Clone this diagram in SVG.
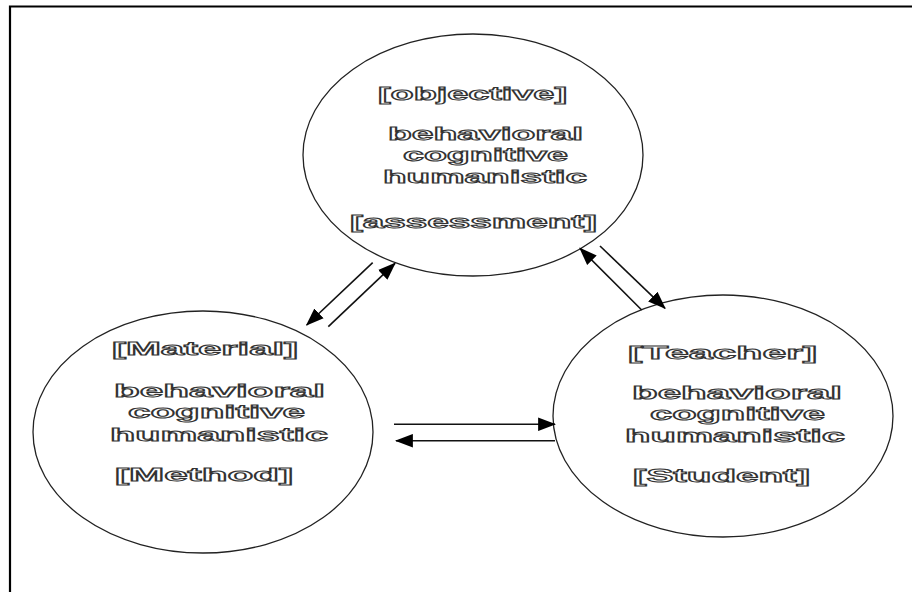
<svg xmlns="http://www.w3.org/2000/svg" width="912" height="592" viewBox="0 0 912 592">
<defs>
<style>
.node ellipse{fill:#fff;stroke:#222;stroke-width:1.3}
.node text{font-family:"Liberation Sans",Arial,sans-serif;font-weight:bold;font-size:18px;fill:#fff;stroke:#333;stroke-width:1}
.conn line{stroke:#111;stroke-width:1.6;marker-end:url(#ah)}
</style>
<marker id="ah" viewBox="0 0 16 12" refX="15" refY="6" markerWidth="18" markerHeight="14" markerUnits="userSpaceOnUse" orient="auto">
<path d="M0,0 L16,6 L0,12 Z" fill="#000"/>
</marker>
</defs>
<rect width="912" height="592" fill="#fff"/>
<path d="M10,592 V6.5 H912" fill="none" stroke="#000" stroke-width="2.2"/>
<g id="objective" class="node">
<ellipse cx="473" cy="155" rx="170" ry="121"/>
<text x="378" y="100" textLength="189" lengthAdjust="spacingAndGlyphs">[objective]</text>
<text x="388" y="140" textLength="195" lengthAdjust="spacingAndGlyphs">behavioral</text>
<text x="403" y="161" textLength="165" lengthAdjust="spacingAndGlyphs">cognitive</text>
<text x="383" y="183" textLength="204" lengthAdjust="spacingAndGlyphs">humanistic</text>
<text x="350" y="228" textLength="247" lengthAdjust="spacingAndGlyphs">[assessment]</text>
</g>
<g id="material" class="node">
<ellipse cx="203" cy="432" rx="170" ry="121"/>
<text x="112" y="355" textLength="186" lengthAdjust="spacingAndGlyphs">[Material]</text>
<text x="114" y="397" textLength="211" lengthAdjust="spacingAndGlyphs">behavioral</text>
<text x="128" y="418" textLength="177" lengthAdjust="spacingAndGlyphs">cognitive</text>
<text x="110" y="441" textLength="218" lengthAdjust="spacingAndGlyphs">humanistic</text>
<text x="115" y="481" textLength="178" lengthAdjust="spacingAndGlyphs">[Method]</text>
</g>
<g id="teacher" class="node">
<ellipse cx="723" cy="416" rx="170" ry="121"/>
<text x="628" y="359" textLength="189" lengthAdjust="spacingAndGlyphs">[Teacher]</text>
<text x="632" y="399" textLength="210" lengthAdjust="spacingAndGlyphs">behavioral</text>
<text x="650" y="420" textLength="175" lengthAdjust="spacingAndGlyphs">cognitive</text>
<text x="625" y="442" textLength="220" lengthAdjust="spacingAndGlyphs">humanistic</text>
<text x="633" y="482" textLength="177" lengthAdjust="spacingAndGlyphs">[Student]</text>
</g>
<g id="connectors" class="conn">
<line x1="372.7" y1="262.7" x2="306.7" y2="325"/>
<line x1="328.3" y1="326.7" x2="395" y2="263.3"/>
<line x1="641.7" y1="310" x2="580" y2="248.3"/>
<line x1="600" y1="246" x2="665" y2="308.3"/>
<line x1="394" y1="424.3" x2="555" y2="424.3"/>
<line x1="555" y1="440.7" x2="396" y2="440.7"/>
</g>
</svg>
